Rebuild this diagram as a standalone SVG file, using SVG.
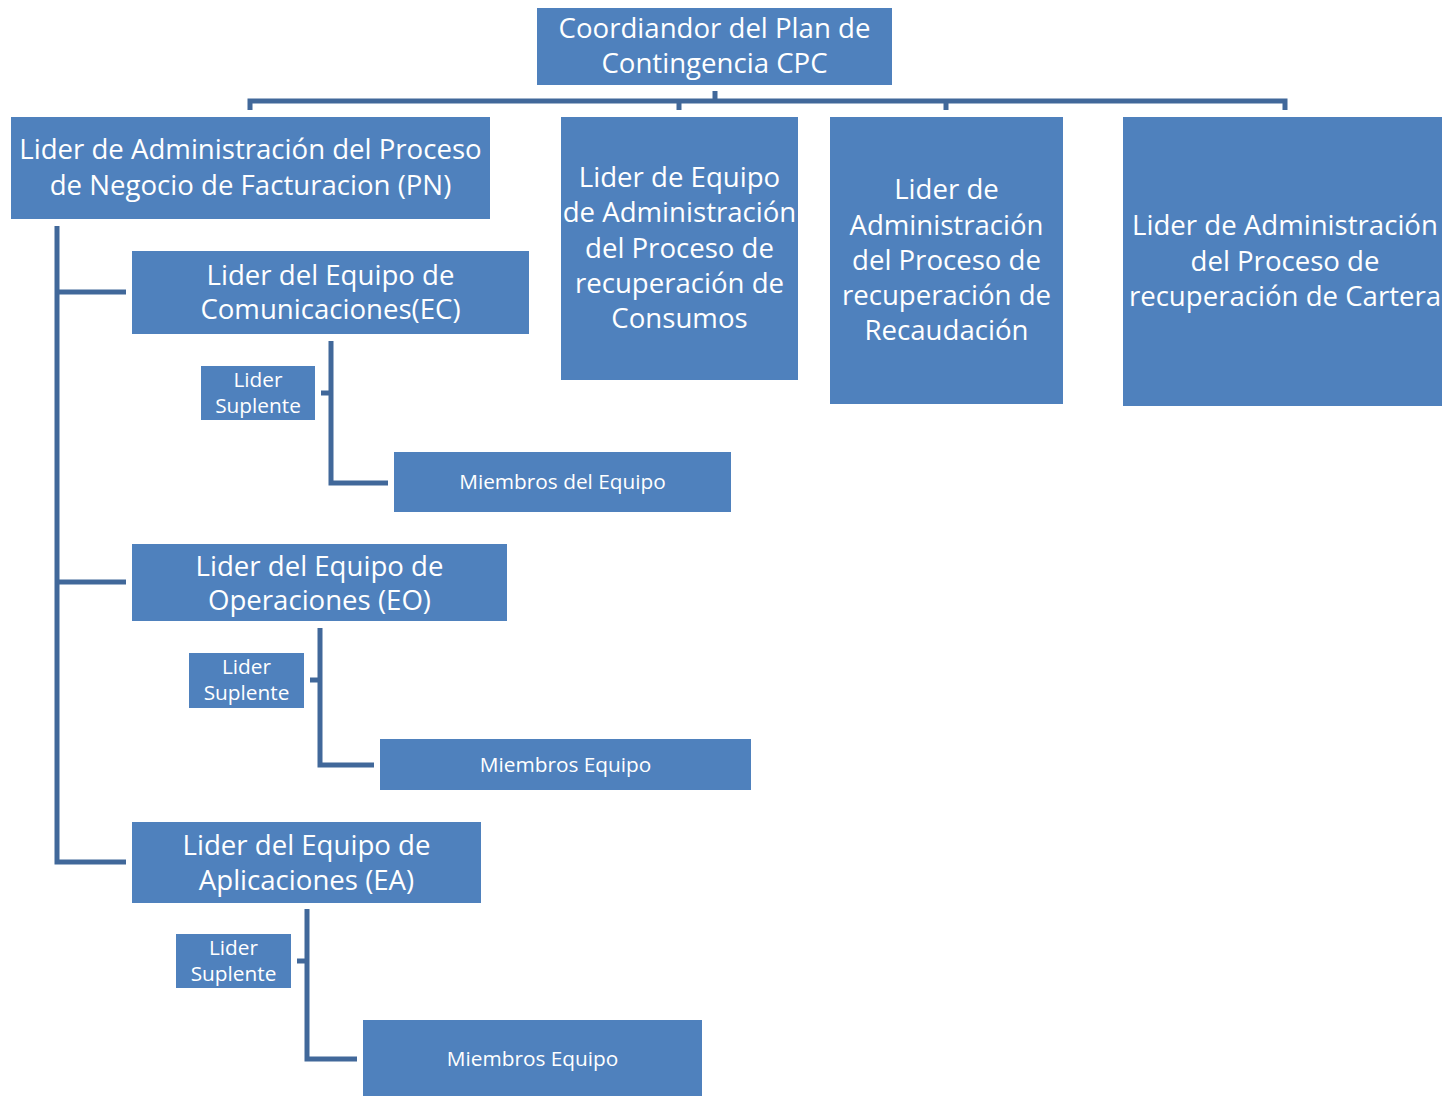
<svg xmlns="http://www.w3.org/2000/svg" width="1442" height="1096" viewBox="0 0 1442 1096">
  <style>
    .box { fill: #4F81BD; }
    .big { font-family: "Open Sans", "DejaVu Sans", sans-serif; font-size: 27.6px; fill: #FFFFFF; text-anchor: middle; dominant-baseline: central; }
    .small { font-family: "Open Sans", "DejaVu Sans", sans-serif; font-size: 20.8px; fill: #FFFFFF; text-anchor: middle; dominant-baseline: central; }
    .link { fill: none; stroke: #41689A; stroke-width: 5; stroke-linejoin: miter; }
  </style>
  <rect width="1442" height="1096" fill="#FFFFFF"/>

  <g id="connectors">
    <!-- top level bus -->
    <path class="link" d="M715,91 V101"/>
    <path class="link" d="M250,110 V101 H1285 V110"/>
    <path class="link" d="M679,101 V110"/>
    <path class="link" d="M946,101 V110"/>
    <!-- PN spine to team leaders -->
    <path class="link" d="M57,226 V862 H126"/>
    <path class="link" d="M57,292 H126"/>
    <path class="link" d="M57,582 H126"/>
    <!-- EC sub-branch -->
    <path class="link" d="M331,341 V483 H388"/>
    <path class="link" d="M321,393 H331"/>
    <!-- EO sub-branch -->
    <path class="link" d="M320,628 V765 H374"/>
    <path class="link" d="M310,680 H320"/>
    <!-- EA sub-branch -->
    <path class="link" d="M307,909 V1059 H357"/>
    <path class="link" d="M297,961 H307"/>
  </g>

  <g id="cpc">
    <rect class="box" x="537" y="8" width="355" height="77"/>
    <text class="big" x="714.5" y="27">Coordiandor del Plan de</text>
    <text class="big" x="714.5" y="62">Contingencia CPC</text>
  </g>

  <g id="pn">
    <rect class="box" x="11" y="117" width="479" height="102"/>
    <text class="big" x="250.5" y="148">Lider de Administración del Proceso</text>
    <text class="big" x="250.5" y="184">de Negocio de Facturacion (PN)</text>
  </g>

  <g id="consumos">
    <rect class="box" x="561" y="117" width="237" height="263"/>
    <text class="big" x="679.5" y="176">Lider de Equipo</text>
    <text class="big" x="679.5" y="211">de Administración</text>
    <text class="big" x="679.5" y="247">del Proceso de</text>
    <text class="big" x="679.5" y="282">recuperación de</text>
    <text class="big" x="679.5" y="317">Consumos</text>
  </g>

  <g id="recaudacion">
    <rect class="box" x="830" y="117" width="233" height="287"/>
    <text class="big" x="946.5" y="188">Lider de</text>
    <text class="big" x="946.5" y="224">Administración</text>
    <text class="big" x="946.5" y="259">del Proceso de</text>
    <text class="big" x="946.5" y="294">recuperación de</text>
    <text class="big" x="946.5" y="329">Recaudación</text>
  </g>

  <g id="cartera">
    <rect class="box" x="1123" y="117" width="319" height="289"/>
    <text class="big" x="1285" y="224">Lider de Administración</text>
    <text class="big" x="1285" y="260">del Proceso de</text>
    <text class="big" x="1285" y="295">recuperación de Cartera</text>
  </g>

  <g id="ec">
    <rect class="box" x="132" y="251" width="397" height="83"/>
    <text class="big" x="330.5" y="274">Lider del Equipo de</text>
    <text class="big" x="330.5" y="308">Comunicaciones(EC)</text>
  </g>

  <g id="ec-suplente">
    <rect class="box" x="201" y="366" width="114" height="54"/>
    <text class="small" x="258" y="379">Lider</text>
    <text class="small" x="258" y="405">Suplente</text>
  </g>

  <g id="ec-miembros">
    <rect class="box" x="394" y="452" width="337" height="60"/>
    <text class="small" x="562.5" y="481">Miembros del Equipo</text>
  </g>

  <g id="eo">
    <rect class="box" x="132" y="544" width="375" height="77"/>
    <text class="big" x="319.5" y="565">Lider del Equipo de</text>
    <text class="big" x="319.5" y="599">Operaciones (EO)</text>
  </g>

  <g id="eo-suplente">
    <rect class="box" x="189" y="653" width="115" height="55"/>
    <text class="small" x="246.5" y="666">Lider</text>
    <text class="small" x="246.5" y="692">Suplente</text>
  </g>

  <g id="eo-miembros">
    <rect class="box" x="380" y="739" width="371" height="51"/>
    <text class="small" x="565.5" y="764">Miembros Equipo</text>
  </g>

  <g id="ea">
    <rect class="box" x="132" y="822" width="349" height="81"/>
    <text class="big" x="306.5" y="844">Lider del Equipo de</text>
    <text class="big" x="306.5" y="879">Aplicaciones (EA)</text>
  </g>

  <g id="ea-suplente">
    <rect class="box" x="176" y="934" width="115" height="54"/>
    <text class="small" x="233.5" y="947">Lider</text>
    <text class="small" x="233.5" y="973">Suplente</text>
  </g>

  <g id="ea-miembros">
    <rect class="box" x="363" y="1020" width="339" height="76"/>
    <text class="small" x="532.5" y="1058">Miembros Equipo</text>
  </g>
</svg>
